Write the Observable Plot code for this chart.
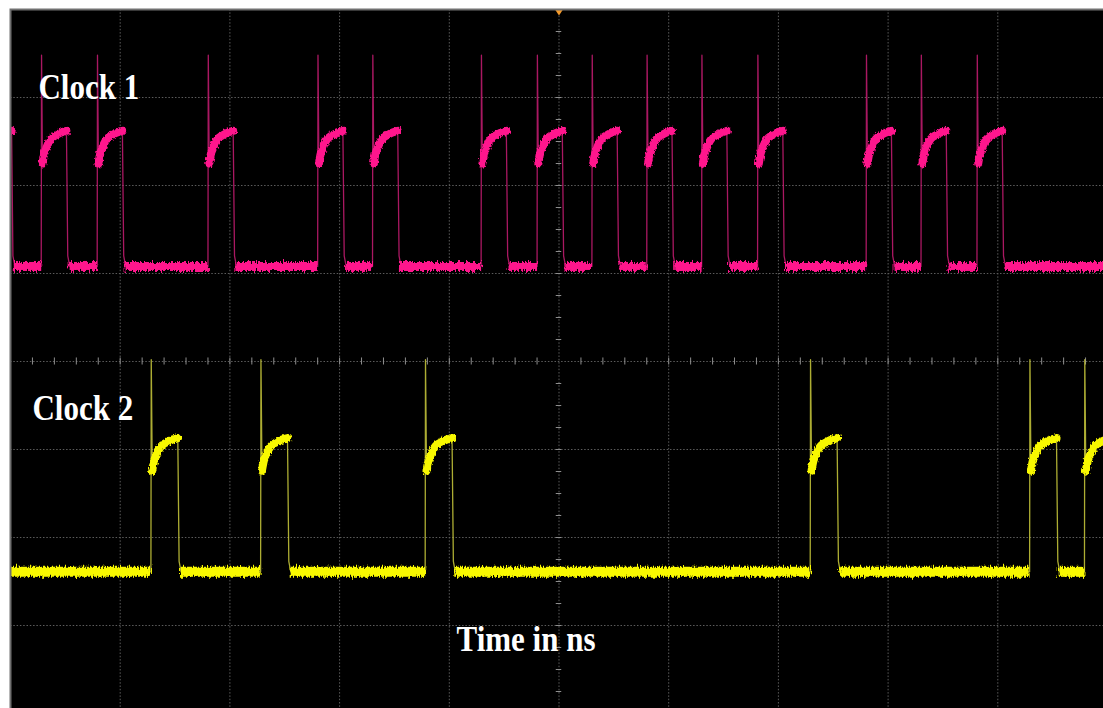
<!DOCTYPE html>
<html>
<head>
<meta charset="utf-8">
<script src="https://cdn.jsdelivr.net/npm/d3@7"></script>
<script src="https://cdn.jsdelivr.net/npm/@observablehq/plot@0.6"></script>
<style>
  html, body { margin: 0; padding: 0; background: #fff; overflow: hidden; }
  #scope { width: 1103px; height: 708px; overflow: hidden; }
  #scope svg { max-width: none; display: block; }
</style>
</head>
<body>
<div id="scope"></div>
<script>
// Two clock channels on an oscilloscope screen (10 x 8 divisions, centre = 0).
const traceNames = ["Clock 1", "Clock 2"];
const axisTitle = "Time in ns";

// rising-edge instants, in horizontal divisions from the left edge
const clock1Rises = [-0.22, 0.28, 0.79, 1.80, 2.80, 3.30, 4.29, 4.80, 5.30, 5.80, 6.30, 6.81, 7.80, 8.30, 8.81];
const clock2Rises = [1.28, 2.28, 3.78, 7.29, 9.29, 9.79];

// pulse width, in divisions
const pulseWidths = [0.23, 0.245];

// levels in vertical divisions: low, overshoot peak, high right after overshoot, settled high
const clock1Levels = [1.08, 3.48, 2.25, 2.62];
const clock2Levels = [-2.39, 0.02, -1.24, -0.87];

// settling of the high level: fraction of the pulse width -> fraction of the way to the settled high
const settleFrac  = [0.05, 0.12, 0.19, 0.28, 0.39, 0.52, 0.65, 0.82, 1.0];
const settleLevel = [0,    0.30, 0.45, 0.62, 0.76, 0.84, 0.90, 0.96, 1.0];

// trigger position marker
const trigger = [{t: 5, v: 4, side: "top"}, {t: 5, v: -4, side: "bottom"}];

// ---- build the trace geometry from the edge list ----
function buildTrace(rises, width, levels) {
  const [low, peak, start, settled] = levels;
  const edge = [{t: -0.5, v: low}];
  const lows = [];
  const highs = [];
  let from = -0.5;
  rises.forEach((t0, i) => {
    lows.push({seg: i, t: from, v: low}, {seg: i, t: t0, v: low});
    edge.push({t: t0, v: low}, {t: t0 + 0.003, v: peak});
    settleFrac.forEach((f, k) => {
      const p = {seg: i, t: t0 + f * width, v: start + settleLevel[k] * (settled - start)};
      highs.push(p);
      edge.push(p);
    });
    edge.push({t: t0 + width + 0.012, v: low + 0.12}, {t: t0 + width + 0.03, v: low});
    from = t0 + width + 0.02;
  });
  lows.push({seg: rises.length, t: from, v: low}, {seg: rises.length, t: 10.5, v: low});
  edge.push({t: 10.5, v: low});
  return {edge, lows, highs};
}

const c1 = buildTrace(clock1Rises, pulseWidths[0], clock1Levels);
const c2 = buildTrace(clock2Rises, pulseWidths[1], clock2Levels);

const labels = [
  {text: traceNames[0], t: 0.255, v: 2.98},
  {text: traceNames[1], t: 0.20, v: -0.67},
  {text: axisTitle, t: 4.066, v: -3.285}
];

const pink = "#ff168c", pinkHigh = "#ff168d", pinkEdge = "#d41e7a";
const yellow = "#f8f800", yellowHigh = "#f8f801", yellowEdge = "#d8d840";

const downTri = {draw(ctx) { ctx.moveTo(-4, -2); ctx.lineTo(4, -2); ctx.lineTo(0, 4); ctx.closePath(); }};
const upTri = {draw(ctx) { ctx.moveTo(-4, 2); ctx.lineTo(4, 2); ctx.lineTo(0, -4); ctx.closePath(); }};

const minorT = d3.range(1, 50).map(i => i / 5).filter(d => Math.abs(d - 5) > 1e-6);
const minorV = d3.range(-15, 16).map(i => i / 4).filter(d => d !== 0);

const gridStyle = {stroke: "#5c5c5c", strokeWidth: 1, strokeDasharray: "1.5,1.8"};

const svg = Plot.plot({
  width: 1107,
  height: 713,
  marginLeft: 10,
  marginRight: 0,
  marginTop: 9,
  marginBottom: 0,
  style: {background: "white", maxWidth: "none"},
  x: {domain: [0, 10], axis: null},
  y: {domain: [-4, 4], axis: null},
  marks: [
    Plot.frame({fill: "black"}),
    Plot.ruleX(d3.range(1, 10), {x: d => d, ...gridStyle}),
    Plot.ruleY(d3.range(-3, 4), {y: d => d, ...gridStyle}),
    Plot.ruleX(minorT, {x: d => d, y1: -0.04, y2: 0.04, stroke: "#8e8e8e", strokeWidth: 1}),
    Plot.ruleY(minorV, {y: d => d, x1: 4.975, x2: 5.025, stroke: "#8e8e8e", strokeWidth: 1}),

    Plot.line(c1.edge, {x: "t", y: "v", stroke: pinkEdge, strokeWidth: 1.3, strokeOpacity: 0.8, curve: "linear", clip: true}),
    Plot.line(c1.lows, {x: "t", y: "v", z: "seg", stroke: pink, strokeWidth: 9, strokeLinecap: "butt", clip: true}),
    Plot.line(c1.highs, {x: "t", y: "v", z: "seg", stroke: pinkHigh, strokeWidth: 8, strokeLinecap: "round", curve: "monotone-x", clip: true}),

    Plot.line(c2.edge, {x: "t", y: "v", stroke: yellowEdge, strokeWidth: 1.3, strokeOpacity: 0.8, curve: "linear", clip: true}),
    Plot.line(c2.lows, {x: "t", y: "v", z: "seg", stroke: yellow, strokeWidth: 10, strokeLinecap: "butt", clip: true}),
    Plot.line(c2.highs, {x: "t", y: "v", z: "seg", stroke: yellowHigh, strokeWidth: 8, strokeLinecap: "round", curve: "monotone-x", clip: true}),

    Plot.text(labels, {
      x: "t", y: "v", text: "text", textAnchor: "start", lineAnchor: "bottom",
      fill: "white", fontSize: 35, fontWeight: "bold", fontFamily: "Liberation Serif, Times New Roman, serif"
    }),

    Plot.dot(trigger.filter(d => d.side === "top"), {x: "t", y: "v", symbol: downTri, fill: "#f59a2a", stroke: "none", dy: 2}),
    Plot.dot(trigger.filter(d => d.side === "bottom"), {x: "t", y: "v", symbol: upTri, fill: "#f59a2a", stroke: "none", dy: -2}),

    Plot.frame({stroke: "#707070", strokeWidth: 2})
  ]
});

// fuzzy noise texture for the trace bands: strong on the low level, gentle on the settling high
const ns = "http://www.w3.org/2000/svg";
const defs = document.createElementNS(ns, "defs");
defs.innerHTML = `
  <filter id="fuzz" filterUnits="userSpaceOnUse" x="0" y="0" width="1107" height="713">
    <feTurbulence type="fractalNoise" baseFrequency="0.7 0.12" numOctaves="2" seed="7" result="noise"/>
    <feDisplacementMap in="SourceGraphic" in2="noise" scale="8" xChannelSelector="R" yChannelSelector="G"/>
  </filter>
  <filter id="fuzzSoft" filterUnits="userSpaceOnUse" x="0" y="0" width="1107" height="713">
    <feTurbulence type="fractalNoise" baseFrequency="0.8 0.3" numOctaves="2" seed="3" result="noise"/>
    <feDisplacementMap in="SourceGraphic" in2="noise" scale="4" xChannelSelector="R" yChannelSelector="G"/>
  </filter>`;
svg.insertBefore(defs, svg.firstChild);
svg.querySelectorAll(`g[stroke="${pink}"], g[stroke="${yellow}"]`).forEach(g => g.setAttribute("filter", "url(#fuzz)"));
svg.querySelectorAll(`g[stroke="${pinkHigh}"], g[stroke="${yellowHigh}"]`).forEach(g => g.setAttribute("filter", "url(#fuzzSoft)"));

document.getElementById("scope").appendChild(svg);

// the lettering is set slightly condensed
svg.querySelectorAll('g[aria-label="text"] text').forEach(el => {
  const w = el.getComputedTextLength();
  el.setAttribute("textLength", (w * 0.885).toFixed(1));
  el.setAttribute("lengthAdjust", "spacingAndGlyphs");
});
</script>
</body>
</html>
